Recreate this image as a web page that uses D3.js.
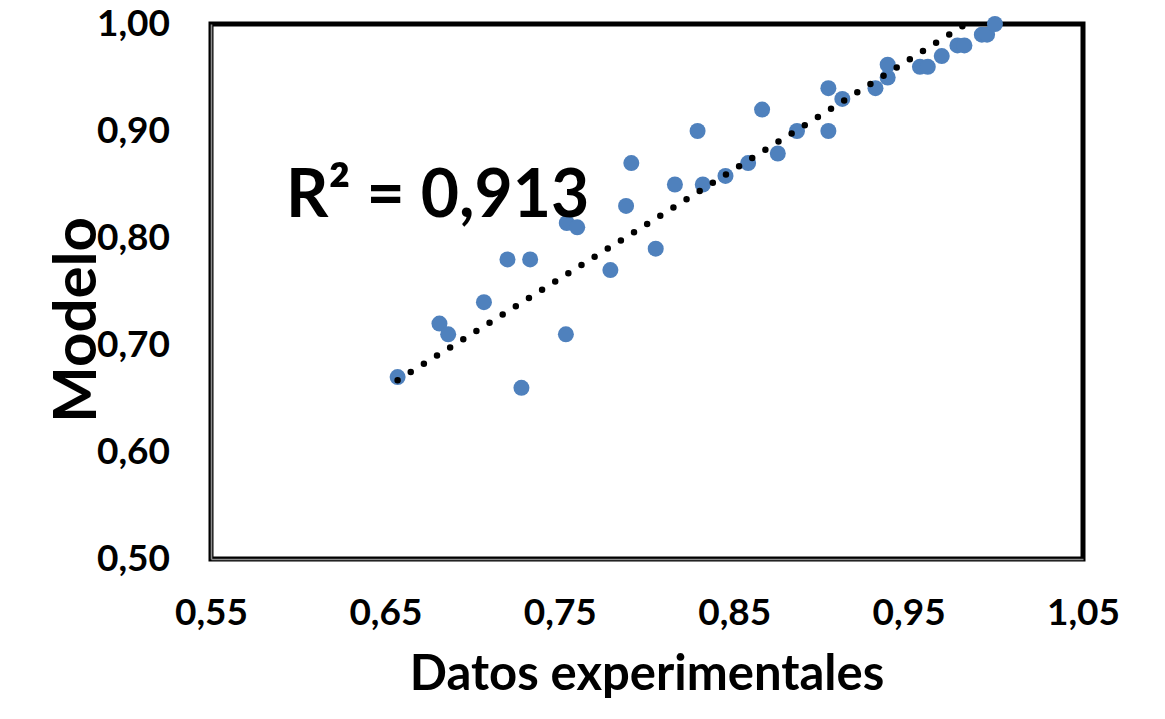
<!DOCTYPE html>
<html>
<head>
<meta charset="utf-8">
<script src="https://cdn.jsdelivr.net/npm/d3@7"></script>
<style>
  body { margin: 0; background: #fff; }
  svg text { font-family: Lato, "Open Sans", sans-serif; font-weight: bold; fill: #000; }
</style>
</head>
<body>
<svg id="chart" width="1165" height="719"></svg>
<script>
// Valeurs
const datosExp = [0.657, 0.681, 0.686, 0.7065, 0.720, 0.733, 0.728, 0.7535, 0.754, 0.760,
                  0.779, 0.788, 0.791, 0.805, 0.816, 0.829, 0.832, 0.845, 0.858, 0.866,
                  0.875, 0.886, 0.904, 0.904, 0.912, 0.931, 0.938, 0.938, 0.9565, 0.961,
                  0.969, 0.978, 0.982, 0.992, 0.995, 0.9995];
const modelo = [0.67, 0.72, 0.71, 0.74, 0.78, 0.78, 0.66, 0.71, 0.814, 0.81,
                0.77, 0.83, 0.87, 0.79, 0.85, 0.90, 0.85, 0.858, 0.87, 0.92,
                0.879, 0.90, 0.94, 0.90, 0.93, 0.94, 0.95, 0.962, 0.96, 0.96,
                0.97, 0.98, 0.98, 0.99, 0.99, 1.00];
// Extrémités de la ligne de tendance
const trendX = [0.657, 0.983];
const trendY = [0.667, 1.000];
const xTicks = [0.55, 0.65, 0.75, 0.85, 0.95, 1.05];
const yTicks = [0.50, 0.60, 0.70, 0.80, 0.90, 1.00];
const r2Label = "R² = 0,913";

const fullWidth = 1165, fullHeight = 719;
const margin = {top: 24, right: 82, bottom: 160, left: 211};
const width = fullWidth - margin.left - margin.right;
const height = fullHeight - margin.top - margin.bottom;

const svg = d3.select('#chart');
const g = svg.append('g').attr('transform', `translate(${margin.left},${margin.top})`);

const x = d3.scaleLinear().domain([0.55, 1.05]).range([0, width]);
const y = d3.scaleLinear().domain([0.50, 1.00]).range([height, 0]);
const fmt = d => d3.format('.2f')(d).replace('.', ',');

// Cadre
g.append('rect')
    .attr('width', width).attr('height', height)
    .attr('fill', 'none').attr('stroke', '#000').attr('stroke-width', 5);

// Axes (ligne grise au milieu du cadre, comme Excel)
const xAxis = g.append('g').attr('transform', `translate(0,${height})`)
    .call(d3.axisBottom(x).tickValues(xTicks).tickFormat(fmt).tickSize(0).tickPadding(42));
const yAxis = g.append('g')
    .call(d3.axisLeft(y).tickValues(yTicks).tickFormat(fmt).tickSize(0).tickPadding(41));
[xAxis, yAxis].forEach(a => {
    a.select('.domain').attr('stroke', '#8c8c8c').attr('stroke-width', 1.6);
    a.selectAll('text').style('font-size', '37px').style('font-family', 'Lato, sans-serif').attr('fill', '#000');
});
xAxis.selectAll('text').attr('dy', '0.66em');

// Points
g.selectAll('.pt')
    .data(datosExp.map((v, i) => ({x: v, y: modelo[i]})))
    .enter().append('circle')
    .attr('class', 'pt')
    .attr('cx', d => x(d.x)).attr('cy', d => y(d.y))
    .attr('r', 8)
    .attr('fill', '#4f81bd');

// Ligne de tendance pointillée
g.append('line')
    .attr('x1', x(trendX[0])).attr('y1', y(trendY[0]))
    .attr('x2', x(trendX[1])).attr('y2', y(trendY[1]))
    .attr('stroke', '#000').attr('stroke-width', 6.5)
    .attr('stroke-linecap', 'round').attr('stroke-dasharray', '0 15.5');

// R²
g.append('text')
    .attr('x', x(0.593)).attr('y', y(0.82))
    .style('font-size', '66px')
    .text(r2Label);

// Titres
svg.append('text')
    .attr('x', 647).attr('y', 690)
    .attr('text-anchor', 'middle')
    .style('font-size', '49px')
    .text('Datos experimentales');

svg.append('text')
    .attr('transform', 'translate(96,320) rotate(-90)')
    .attr('text-anchor', 'middle')
    .style('font-size', '60px')
    .text('Modelo');
</script>
</body>
</html>
